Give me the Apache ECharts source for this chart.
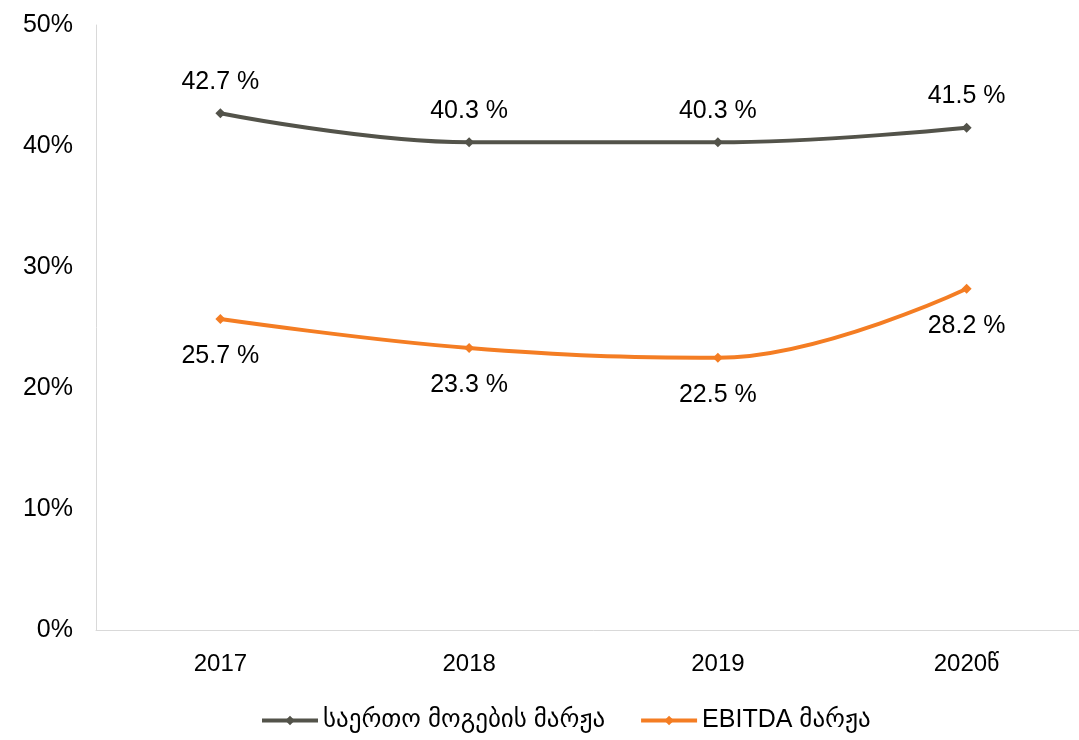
<!DOCTYPE html>
<html>
<head>
<meta charset="utf-8">
<script src="https://cdn.jsdelivr.net/npm/echarts@6/dist/echarts.min.js"></script>
<style>
  html, body { margin: 0; padding: 0; background: #fff; overflow: hidden; }
  #chart { width: 1091px; height: 740px; }
</style>
</head>
<body>
<div id="chart"></div>
<script>
const categories = ['2017', '2018', '2019', '2020წ'];
const grossMargin = [42.7, 40.3, 40.3, 41.5];
const ebitdaMargin = [25.7, 23.3, 22.5, 28.2];
const seriesNames = ['საერთო მოგების მარჟა', 'EBITDA მარჟა'];

const font = 'Arial, "Liberation Sans", "DejaVu Sans", sans-serif';
const chart = echarts.init(document.getElementById('chart'));

chart.setOption({
  animation: false,
  grid: { left: 96, top: 25, right: 0, bottom: 110 },
  legend: {
    bottom: 2,
    left: 255,
    itemWidth: 56,
    itemHeight: 12,
    itemGap: 34,
    lineStyle: { width: 4 },
    textStyle: { fontFamily: font, fontSize: 25, color: '#000' },
    data: seriesNames
  },
  xAxis: {
    type: 'category',
    data: categories,
    boundaryGap: true,
    axisLine: { lineStyle: { color: '#d9d9d9', width: 1 } },
    axisTick: { show: false },
    axisLabel: { fontFamily: font, fontSize: 24, color: '#000', margin: 22 }
  },
  yAxis: {
    type: 'value',
    min: 0,
    max: 50,
    interval: 10,
    axisLine: { show: true, lineStyle: { color: '#d9d9d9', width: 1 } },
    axisTick: { show: false },
    splitLine: { show: false },
    axisLabel: { fontFamily: font, fontSize: 25, color: '#000', margin: 23, formatter: '{value}%' }
  },
  series: [
    {
      name: seriesNames[0],
      type: 'line',
      data: grossMargin,
      smooth: 0.4,
      symbol: 'diamond',
      symbolSize: 10,
      itemStyle: { color: '#53534a' },
      lineStyle: { color: '#53534a', width: 4 },
      label: {
        show: true, position: 'top', distance: 14,
        fontFamily: font, fontSize: 25, color: '#000',
        formatter: p => p.value.toFixed(1) + ' %'
      }
    },
    {
      name: seriesNames[1],
      type: 'line',
      data: ebitdaMargin,
      smooth: 0.4,
      symbol: 'diamond',
      symbolSize: 10,
      itemStyle: { color: '#f47d23' },
      lineStyle: { color: '#f47d23', width: 4 },
      label: {
        show: true, position: 'bottom', distance: 20,
        fontFamily: font, fontSize: 25, color: '#000',
        formatter: p => p.value.toFixed(1) + ' %'
      }
    }
  ]
});
</script>
</body>
</html>
